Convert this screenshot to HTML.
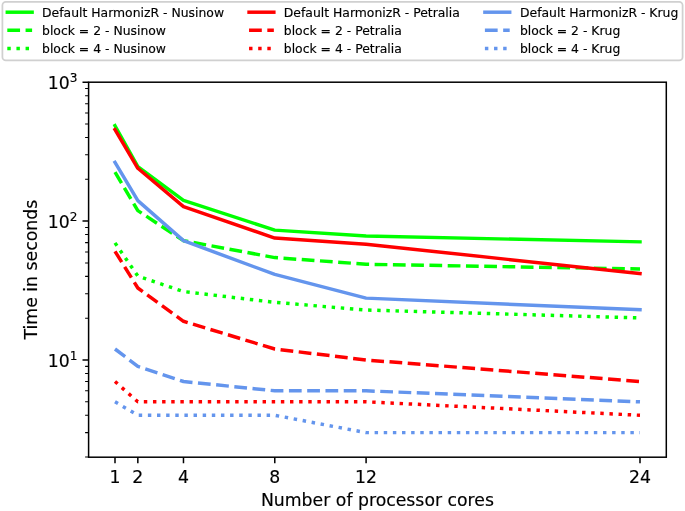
<!DOCTYPE html>
<html><head><meta charset="utf-8"><title>Runtime plot</title>
<style>html,body{margin:0;padding:0;background:#fff}svg{display:block}text{stroke:#000;stroke-width:0.15px}</style></head>
<body>
<svg width="685" height="511" viewBox="0 0 685 511" font-family="'DejaVu Sans', 'Liberation Sans', sans-serif" fill="#000">
<rect width="685" height="511" fill="#fff"/>
<g clip-path="url(#c)">
<polyline points="115.00,125.73 137.83,166.55 183.48,200.37 274.78,230.13 366.09,236.09 640.00,241.85" stroke="#00ff00" stroke-width="3.47" fill="none" stroke-linejoin="round" stroke-linecap="square"/>
<polyline points="115.00,172.18 137.83,210.61 183.48,240.67 274.78,257.60 366.09,264.25 640.00,269.00" stroke="#00ff00" stroke-width="3.47" fill="none" stroke-linejoin="round" stroke-dasharray="12.754 5.515"/>
<polyline points="115.00,242.87 137.83,276.07 183.48,291.56 274.78,302.36 366.09,310.02 640.00,317.89" stroke="#00ff00" stroke-width="3.47" fill="none" stroke-linejoin="round" stroke-dasharray="3.447 5.688"/>
<polyline points="115.00,129.57 137.83,168.29 183.48,206.68 274.78,238.05 366.09,244.19 640.00,273.57" stroke="#ff0000" stroke-width="3.47" fill="none" stroke-linejoin="round" stroke-linecap="square"/>
<polyline points="115.00,251.31 137.83,287.98 183.48,321.28 274.78,349.00 366.09,360.00 640.00,381.52" stroke="#ff0000" stroke-width="3.47" fill="none" stroke-linejoin="round" stroke-dasharray="12.754 5.515"/>
<polyline points="115.00,381.52 137.83,401.81 183.48,401.81 274.78,401.81 366.09,401.81 640.00,415.27" stroke="#ff0000" stroke-width="3.47" fill="none" stroke-linejoin="round" stroke-dasharray="3.447 5.688"/>
<polyline points="115.00,162.43 137.83,200.59 183.48,240.67 274.78,274.44 366.09,298.11 640.00,309.76" stroke="#6495ed" stroke-width="3.47" fill="none" stroke-linejoin="round" stroke-linecap="square"/>
<polyline points="115.00,349.00 137.83,366.36 183.48,381.52 274.78,390.81 366.09,390.81 640.00,401.81" stroke="#6495ed" stroke-width="3.47" fill="none" stroke-linejoin="round" stroke-dasharray="12.754 5.515"/>
<polyline points="115.00,401.81 137.83,415.27 183.48,415.27 274.78,415.27 366.09,432.63 640.00,432.63" stroke="#6495ed" stroke-width="3.47" fill="none" stroke-linejoin="round" stroke-dasharray="3.447 5.688"/>
</g>
<defs><clipPath id="c"><rect x="88.6" y="82.2" width="577.6999999999999" height="375.0"/></clipPath></defs>
<rect x="88.6" y="82.2" width="577.70" height="375.00" fill="none" stroke="#000" stroke-width="1.5" stroke-linejoin="miter"/>
<path d="M115.00 457.2v6.1M137.83 457.2v6.1M183.48 457.2v6.1M274.78 457.2v6.1M366.09 457.2v6.1M640.00 457.2v6.1M88.6 360.00h-6.1M88.6 221.10h-6.1M88.6 82.20h-6.1" stroke="#000" stroke-width="1.5" fill="none"/>
<path d="M88.6 457.09h-3.5M88.6 432.63h-3.5M88.6 415.27h-3.5M88.6 401.81h-3.5M88.6 390.81h-3.5M88.6 381.52h-3.5M88.6 373.46h-3.5M88.6 366.36h-3.5M88.6 318.19h-3.5M88.6 293.73h-3.5M88.6 276.37h-3.5M88.6 262.91h-3.5M88.6 251.91h-3.5M88.6 242.62h-3.5M88.6 234.56h-3.5M88.6 227.46h-3.5M88.6 179.29h-3.5M88.6 154.83h-3.5M88.6 137.47h-3.5M88.6 124.01h-3.5M88.6 113.01h-3.5M88.6 103.72h-3.5M88.6 95.66h-3.5M88.6 88.56h-3.5" stroke="#000" stroke-width="1.05" fill="none"/>
<text x="115.00" y="482.7" font-size="17.3" text-anchor="middle">1</text>
<text x="137.83" y="482.7" font-size="17.3" text-anchor="middle">2</text>
<text x="183.48" y="482.7" font-size="17.3" text-anchor="middle">4</text>
<text x="274.78" y="482.7" font-size="17.3" text-anchor="middle">8</text>
<text x="366.09" y="482.7" font-size="17.3" text-anchor="middle">12</text>
<text x="640.00" y="482.7" font-size="17.3" text-anchor="middle">24</text>
<text x="77.4" y="366.90" font-size="17.3" text-anchor="end">10<tspan font-size="12.11" dy="-6.9">1</tspan></text>
<text x="77.4" y="228.00" font-size="17.3" text-anchor="end">10<tspan font-size="12.11" dy="-6.9">2</tspan></text>
<text x="77.4" y="89.10" font-size="17.3" text-anchor="end">10<tspan font-size="12.11" dy="-6.9">3</tspan></text>
<text x="377.45" y="505.9" font-size="17.3" text-anchor="middle">Number of processor cores</text>
<text transform="translate(36.9 269.70) rotate(-90)" font-size="17.3" text-anchor="middle">Time in seconds</text>
<rect x="2.4" y="1.8" width="680.2" height="58.6" rx="3.4" fill="#fff" stroke="#d0d0d0" stroke-width="1.74"/>
<path d="M7.3 12.2h24.8" stroke="#00ff00" stroke-width="3.47" fill="none" stroke-linejoin="round" stroke-linecap="square"/>
<text x="42.02" y="16.50" font-size="12.4">Default HarmonizR - Nusinow</text>
<path d="M7.3 30.35h24.8" stroke="#00ff00" stroke-width="3.47" fill="none" stroke-linejoin="round" stroke-dasharray="12.754 5.515"/>
<text x="42.02" y="34.65" font-size="12.4">block = 2 - Nusinow</text>
<path d="M7.3 48.5h24.8" stroke="#00ff00" stroke-width="3.47" fill="none" stroke-linejoin="round" stroke-dasharray="3.447 5.688"/>
<text x="42.02" y="52.80" font-size="12.4">block = 4 - Nusinow</text>
<path d="M249.05 12.2h24.8" stroke="#ff0000" stroke-width="3.47" fill="none" stroke-linejoin="round" stroke-linecap="square"/>
<text x="283.77" y="16.50" font-size="12.4">Default HarmonizR - Petralia</text>
<path d="M249.05 30.35h24.8" stroke="#ff0000" stroke-width="3.47" fill="none" stroke-linejoin="round" stroke-dasharray="12.754 5.515"/>
<text x="283.77" y="34.65" font-size="12.4">block = 2 - Petralia</text>
<path d="M249.05 48.5h24.8" stroke="#ff0000" stroke-width="3.47" fill="none" stroke-linejoin="round" stroke-dasharray="3.447 5.688"/>
<text x="283.77" y="52.80" font-size="12.4">block = 4 - Petralia</text>
<path d="M484.9 12.2h24.8" stroke="#6495ed" stroke-width="3.47" fill="none" stroke-linejoin="round" stroke-linecap="square"/>
<text x="519.97" y="16.50" font-size="12.4">Default HarmonizR - Krug</text>
<path d="M484.9 30.35h24.8" stroke="#6495ed" stroke-width="3.47" fill="none" stroke-linejoin="round" stroke-dasharray="12.754 5.515"/>
<text x="519.97" y="34.65" font-size="12.4">block = 2 - Krug</text>
<path d="M484.9 48.5h24.8" stroke="#6495ed" stroke-width="3.47" fill="none" stroke-linejoin="round" stroke-dasharray="3.447 5.688"/>
<text x="519.97" y="52.80" font-size="12.4">block = 4 - Krug</text>
</svg>
</body></html>
